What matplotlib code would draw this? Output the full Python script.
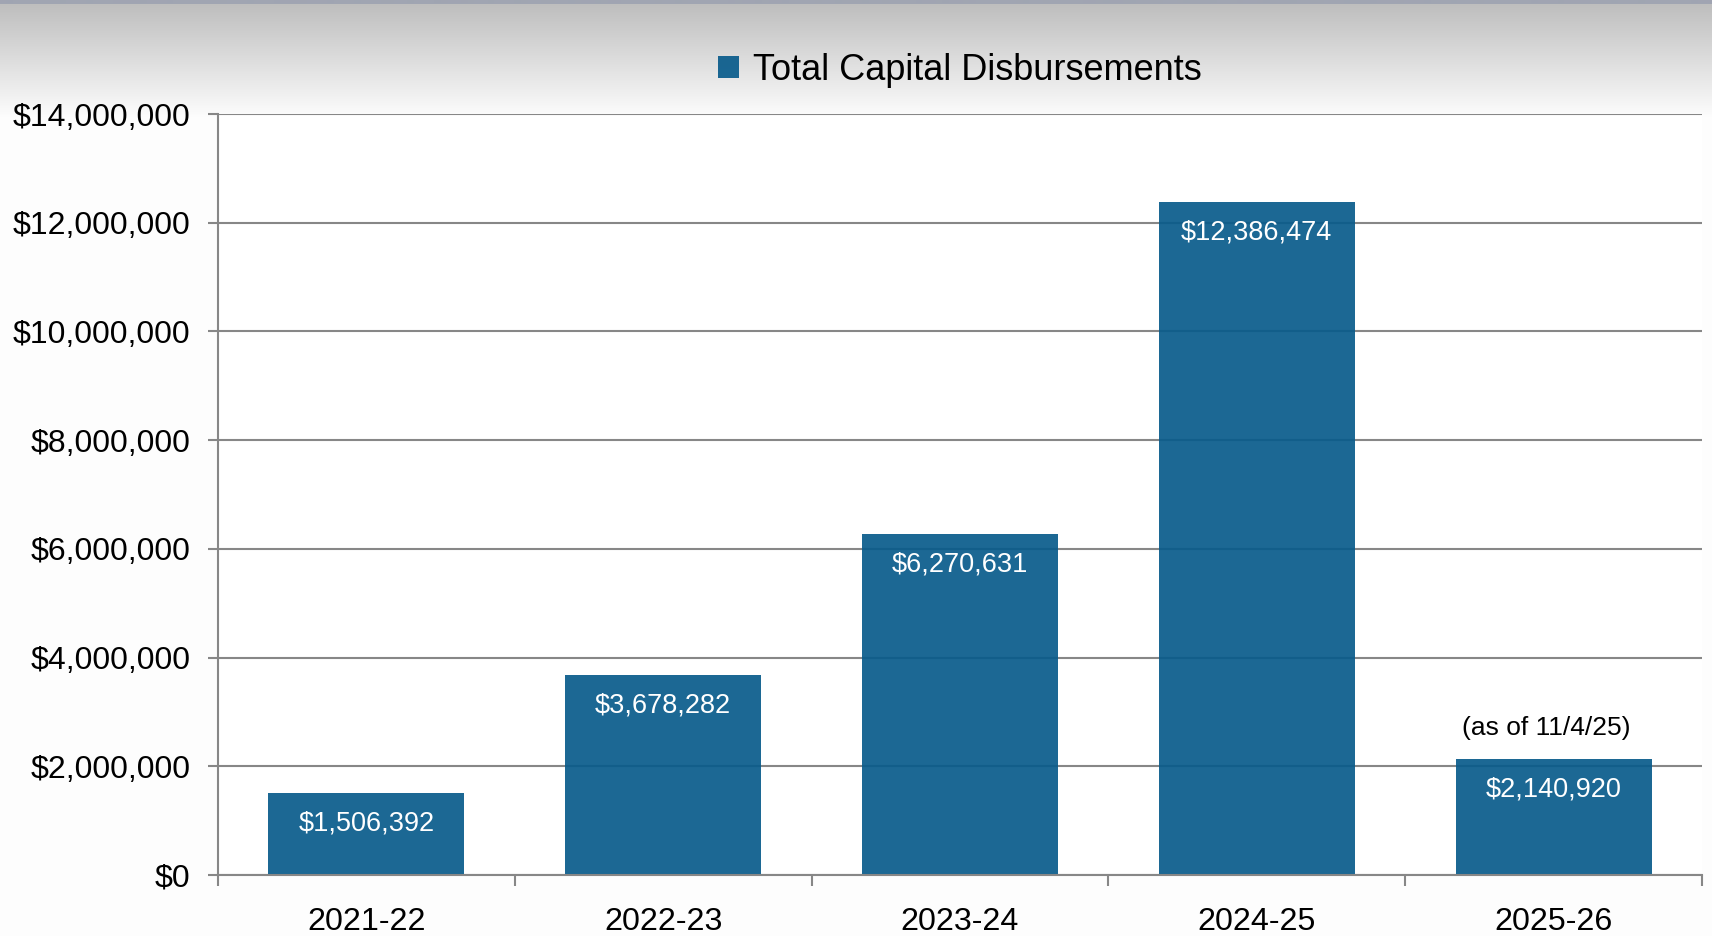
import numpy as np
import matplotlib
matplotlib.use("Agg")
from matplotlib import pyplot as plt
from matplotlib.ticker import FuncFormatter, FixedLocator

# data
years = ["2021-22", "2022-23", "2023-24", "2024-25", "2025-26"]
totals = [1506392, 3678282, 6270631, 12386474, 2140920]
series_name = "Total Capital Disbursements"
last_note = "(as of 11/4/25)"

plt.rcParams["font.family"] = ["Liberation Sans", "DejaVu Sans"]

BAR = (8 / 255, 91 / 255, 139 / 255)
GRID = "#878787"

fig = plt.figure(figsize=(17.12, 9.36), dpi=100)

# grey-to-white header gradient behind everything
bg = fig.add_axes([0, 0, 1, 1], zorder=-10)
rows = np.linspace(0, 1, 936)
shade = np.clip(190 + (rows * 936 - 4) / 111 * 62, 190, 253)
img = np.repeat(shade[:, None], 3, axis=1)[:, None, :] / 255.0
img[rows * 936 < 4] = np.array([160, 165, 178]) / 255.0
bg.imshow(img, aspect="auto", extent=[0, 1, 0, 1], interpolation="bilinear")
bg.set_axis_off()

ax = fig.add_axes([0.12734, 0.06517, 0.86682, 0.81303])
ax.set_facecolor("white")

x = np.arange(len(years))
bars = ax.bar(x, totals, width=0.66, color=BAR, alpha=0.92, label=series_name, zorder=3)

ax.set_xlim(-0.5, len(years) - 0.5)
ax.set_ylim(0, 14000000)
ax.set_yticks(np.arange(0, 14000001, 2000000))
ax.yaxis.set_major_formatter(FuncFormatter(lambda v, p: f"${v:,.0f}"))
ax.grid(axis="y", color=GRID, linewidth=1.5, zorder=1)
ax.set_axisbelow(True)

ax.set_xticks(x)
ax.set_xticklabels(years)
ax.xaxis.set_minor_locator(FixedLocator(np.arange(-0.5, len(years), 1.0)))
ax.tick_params(axis="x", which="major", length=0, pad=23, labelsize=23.2)
ax.tick_params(axis="x", which="minor", length=8, width=1.5, color=GRID)
ax.tick_params(axis="y", length=7, width=1.5, color=GRID, pad=13, labelsize=23)

for side in ["top", "right"]:
    ax.spines[side].set_visible(False)
for side in ["left", "bottom"]:
    ax.spines[side].set_color(GRID)
    ax.spines[side].set_linewidth(1.5)
    ax.spines[side].set_zorder(4)

# value labels inside bar tops
for rect, v in zip(bars, totals):
    ax.annotate(f"${v:,.0f}", (rect.get_x() + rect.get_width() / 2, v),
                xytext=(0, -22), textcoords="offset points",
                ha="center", va="center", color="white", fontsize=19.5, zorder=5)

ax.annotate(last_note, (x[-1], totals[-1]), xytext=(-5, 22), textcoords="offset points",
            ha="center", va="center", color="black", fontsize=19)

fig.legend(handles=[bars], labels=[series_name], loc="center",
           bbox_to_anchor=(960 / 1712, 1 - 70 / 936), frameon=False,
           fontsize=26, handlelength=0.56, handleheight=0.56, handletextpad=0.4)

fig.savefig("out.png", dpi=100)
